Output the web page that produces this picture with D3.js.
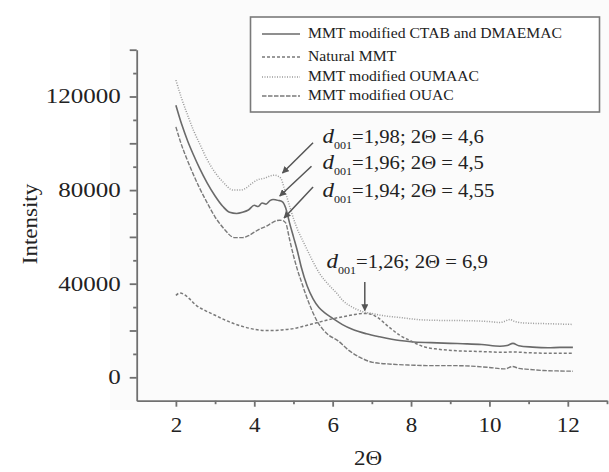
<!DOCTYPE html>
<html>
<head>
<meta charset="utf-8">
<script src="https://cdn.jsdelivr.net/npm/d3@7"></script>
<style>
body { margin: 0; background: #fff; }
text { font-family: "Liberation Serif", "Times New Roman", serif; fill: #222; }
</style>
</head>
<body>
<div id="chart"></div>
<script>
// series (2Theta, intensity)
var ctabX = [2.0,2.15,2.3,2.45,2.6,2.8,3.0,3.2,3.37,3.55,3.7,3.85,4.0,4.1,4.2,4.3,4.4,4.48,4.56,4.64,4.72,4.8,4.9,5.0,5.1,5.2,5.35,5.5,5.65,5.8,6.0,6.25,6.5,6.86,7.2,7.71,8.0,8.5,9.0,9.42,9.8,10.27,10.45,10.6,10.75,11.1,11.5,11.8,12.13];
var ctabY = [116300,108000,101000,95000,89500,83000,77500,73000,70500,70000,70500,71500,73500,73000,74500,74000,75500,76000,75800,75500,75000,72500,66000,60000,54000,47000,39000,33500,29800,27500,25200,22500,20500,18600,17300,15700,15200,14800,14500,14300,14000,13300,13600,14500,13500,12900,12600,12800,12800];

var naturalX = [2.0,2.1,2.2,2.35,2.5,2.75,3.0,3.25,3.5,3.75,4.0,4.25,4.5,4.75,5.0,5.16,5.4,5.7,6.0,6.3,6.55,6.78,6.95,7.15,7.4,7.71,8.0,8.3,8.7,9.2,9.8,10.3,10.6,11.0,11.5,12.13];
var naturalY = [35000,36000,35500,33500,31000,28500,26500,24500,22800,21500,20500,20000,20000,20300,20800,21400,22500,23800,25000,26000,26800,27300,27100,25500,22000,18000,15500,13200,12000,11300,11000,10700,10800,10500,10300,10300];

var oumaacX = [2.0,2.15,2.3,2.45,2.6,2.8,3.0,3.2,3.46,3.65,3.8,3.95,4.1,4.25,4.4,4.52,4.6,4.68,4.76,4.85,4.95,5.05,5.16,5.25,5.45,5.67,5.9,6.1,6.26,6.5,6.78,7.0,7.27,7.7,8.22,8.8,9.4,10.0,10.27,10.4,10.52,10.65,10.9,11.5,12.13];
var oumaacY = [127000,119000,112000,105500,100000,93000,87500,83500,80000,80000,81000,83000,84500,85000,86000,86400,86000,85000,81000,76000,70500,65500,61000,58000,51000,44300,39500,36000,32800,30000,28000,27300,26400,25600,24600,24300,24200,23800,23400,24000,24700,23800,23200,22900,22600];

var ouacX = [2.0,2.15,2.3,2.45,2.6,2.8,3.0,3.2,3.5,3.7,3.85,4.0,4.15,4.3,4.45,4.58,4.65,4.72,4.8,4.9,5.0,5.1,5.2,5.3,5.4,5.5,5.62,5.75,5.9,6.13,6.42,6.7,7.02,7.5,8.0,8.4,9.0,9.5,10.0,10.4,10.59,10.75,11.0,11.38,11.8,12.13];
var ouacY = [107000,99000,92500,86500,81000,74500,68500,64000,59700,59700,60500,62000,63500,64500,66000,67000,67100,67000,66000,59000,52000,46000,41000,36000,31500,27500,23500,20500,18000,15700,11400,8500,6400,5600,5200,5000,5000,4800,4200,3600,4600,3800,3400,2900,2700,2600];

var seriesNames = ["MMT modified CTAB and DMAEMAC", "Natural MMT", "MMT modified OUMAAC", "MMT modified OUAC"];
var xTickValues = [2, 4, 6, 8, 10, 12];
var yTickValues = [0, 40000, 80000, 120000];

// annotations: label, arrow tail and tip in data units, text anchor in data units
var annLabels = ["=1,98; 2\u0398 = 4,6", "=1,96; 2\u0398 = 4,5", "=1,94; 2\u0398 = 4,55", "=1,26; 2\u0398 = 6,9"];
var annTail = [[5.50,100200],[5.46,90200],[5.50,81300],[6.82,40700]];
var annTip = [[4.72,87300],[4.65,77500],[4.76,68100],[6.82,28500]];
var annText = [[5.74,100300],[5.74,89200],[5.74,77200],[5.84,46500]];

var width = 609, height = 472;
var margin = {top: 49.7, right: 2, bottom: 71.3, left: 136.7};

var svg = d3.select("#chart").append("svg")
  .attr("width", width)
  .attr("height", height);

svg.append("rect").attr("x", 110).attr("y", 0).attr("width", width - 110).attr("height", 410)
  .attr("fill", "#fbfbfb");

var x = d3.scaleLinear().domain([1, 13]).range([margin.left, width - margin.right]);
var y = d3.scaleLinear().domain([-10000, 140000]).range([height - margin.bottom, margin.top]);

function stretch(sel, k) {
  sel.each(function() {
    var t = d3.select(this);
    var tx = +t.attr("x") || 0, ty = +t.attr("y") || 0;
    t.attr("transform", "translate(" + tx + "," + ty + ") scale(" + k + ",1) translate(" + (-tx) + "," + (-ty) + ")");
  });
}

var axisColor = "#6f6f6f";

// x axis: minor ticks at odd values, major at even
var gxMinor = svg.append("g")
  .attr("transform", "translate(0," + y(-10000) + ")")
  .call(d3.axisBottom(x).tickValues([3,5,7,9,11,13]).tickSize(3.5).tickFormat(""));
gxMinor.select(".domain").remove();
var gx = svg.append("g")
  .attr("transform", "translate(0," + y(-10000) + ")")
  .call(d3.axisBottom(x).tickValues(xTickValues).tickSize(6).tickPadding(11).tickSizeOuter(0));

// y axis
var gyMinor = svg.append("g")
  .attr("transform", "translate(" + x(1) + ",0)")
  .call(d3.axisLeft(y).tickValues(d3.range(10000, 140001, 20000)).tickSize(3.5).tickFormat(""));
gyMinor.select(".domain").remove();
var gy = svg.append("g")
  .attr("transform", "translate(" + x(1) + ",0)")
  .call(d3.axisLeft(y).tickValues(d3.range(0, 140001, 20000)).tickSize(7).tickPadding(9).tickSizeOuter(0)
    .tickFormat(function(d) { return yTickValues.indexOf(d) >= 0 ? d : ""; }));

[gx, gy, gxMinor, gyMinor].forEach(function(g) {
  g.selectAll("path, line").attr("stroke", axisColor).attr("stroke-width", 1.8);
  g.selectAll("text").style("font-size", "20px").attr("fill", "#222");
});
stretch(gx.selectAll("text"), 1.15);
stretch(gy.selectAll("text"), 1.25);

// axis titles
svg.append("text")
  .attr("transform", "translate(30,224) rotate(-90) scale(1.15,1)")
  .attr("text-anchor", "middle")
  .attr("dy", "0.35em")
  .style("font-size", "20px")
  .text("Intensity");
svg.append("text")
  .attr("transform", "translate(368,465) scale(1.15,1)")
  .attr("text-anchor", "middle")
  .style("font-size", "20px")
  .text("2\u0398");

// curves
var series = [
  {name: seriesNames[0], xs: ctabX, ys: ctabY, color: "#6a6a6a", dash: null, w: 1.6},
  {name: seriesNames[1], xs: naturalX, ys: naturalY, color: "#7a7a7a", dash: "3,2", w: 1.5},
  {name: seriesNames[2], xs: oumaacX, ys: oumaacY, color: "#9a9a9a", dash: "1,1.5", w: 1.5},
  {name: seriesNames[3], xs: ouacX, ys: ouacY, color: "#7a7a7a", dash: "4.5,1.5", w: 1.4}
];

var line = d3.line()
  .x(function(d) { return x(d[0]); })
  .y(function(d) { return y(d[1]); })
  .curve(d3.curveMonotoneX);

series.forEach(function(s) {
  svg.append("path")
    .datum(d3.zip(s.xs, s.ys))
    .attr("fill", "none")
    .attr("stroke", s.color)
    .attr("stroke-width", s.w)
    .attr("stroke-dasharray", s.dash)
    .attr("d", line);
});

// legend
var legend = svg.append("g");
legend.append("rect")
  .attr("x", 250.5).attr("y", 17).attr("width", 349).attr("height", 95)
  .attr("fill", "#fff").attr("stroke", "#7a7a7a").attr("stroke-width", 1.6);
var legendRowY = [34, 57, 77, 96];
series.forEach(function(s, i) {
  legend.append("line")
    .attr("x1", 262).attr("x2", 300)
    .attr("y1", legendRowY[i]).attr("y2", legendRowY[i])
    .attr("stroke", s.color).attr("stroke-width", s.w)
    .attr("stroke-dasharray", s.dash);
  var t = legend.append("text")
    .attr("x", 308).attr("y", legendRowY[i] + 4)
    .style("font-size", "14.5px")
    .text(s.name);
  stretch(t, 1.08);
});

// annotations
var defs = svg.append("defs");
defs.append("marker")
  .attr("id", "arrow")
  .attr("viewBox", "0 0 10 10")
  .attr("refX", 9).attr("refY", 5)
  .attr("markerWidth", 7).attr("markerHeight", 7)
  .attr("markerUnits", "userSpaceOnUse")
  .attr("orient", "auto")
  .append("path").attr("d", "M0,0 L10,5 L0,10 z").attr("fill", "#555");

annLabels.forEach(function(lab, i) {
  svg.append("line")
    .attr("x1", x(annTail[i][0])).attr("y1", y(annTail[i][1]))
    .attr("x2", x(annTip[i][0])).attr("y2", y(annTip[i][1]))
    .attr("stroke", "#555").attr("stroke-width", 1.5)
    .attr("marker-end", "url(#arrow)");
  var t = svg.append("text")
    .attr("x", x(annText[i][0])).attr("y", y(annText[i][1]))
    .style("font-size", "18px");
  t.append("tspan").style("font-style", "italic").style("font-size", "20px").text("d");
  t.append("tspan").attr("dy", 6).style("font-size", "10.5px").text("001");
  t.append("tspan").attr("dy", -6).text(lab);
  stretch(t, 1.15);
});
</script>
</body>
</html>
